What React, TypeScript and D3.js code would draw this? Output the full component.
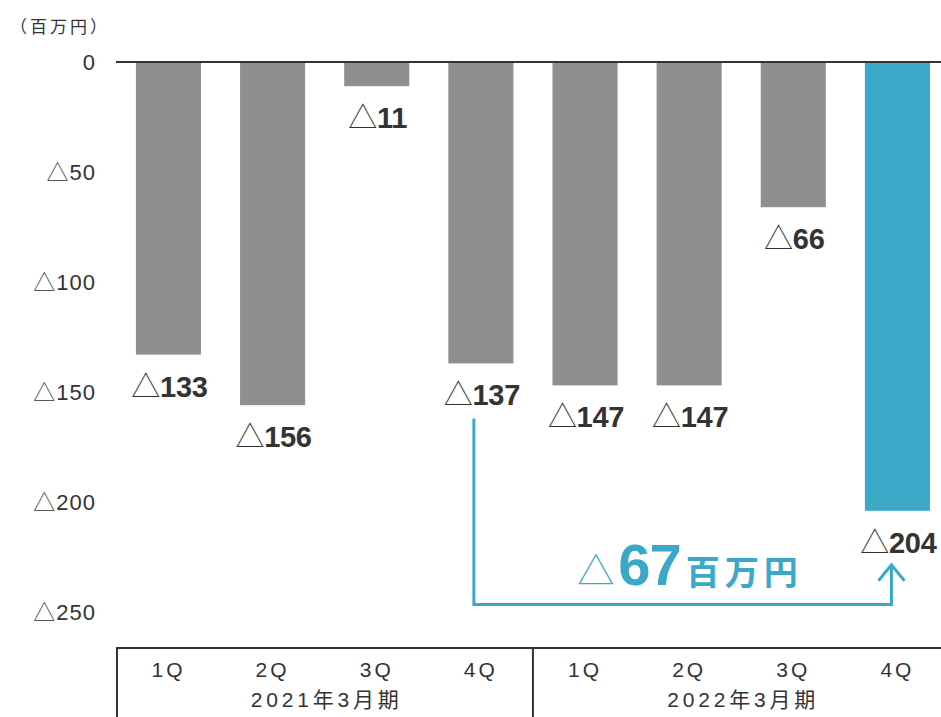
import React from "react";
import * as d3 from "d3";

const quarters = ["1Q", "2Q", "3Q", "4Q", "1Q", "2Q", "3Q", "4Q"];
const values = [-133, -156, -11, -137, -147, -147, -66, -204];
const fiscalYears = ["2021年3月期", "2022年3月期"];
const yTicks = [0, -50, -100, -150, -200, -250];
const unitLabel = "（百万円）";
const diffValue = 67;

const W = 941;
const H = 717;
const FONT = "'Liberation Sans', Arial, 'Noto Sans CJK JP', sans-serif";
const CJK = "'Noto Sans CJK JP', sans-serif";
const GRAY = "#8f8f8f";
const BLUE = "#3ba8c8";
const TEXT = "#333333";

export default function App() {
  const x = d3.scaleBand<number>().domain(d3.range(values.length)).range([116.4, 949.5]).paddingInner(0.375).paddingOuter(0.1875);
  const y = d3.scaleLinear().domain([0, -250]).range([62, 612]);
  const bw = x.bandwidth();
  const fmt = (v: number) => (v === 0 ? "0" : String(Math.abs(v)));

  const fromIdx = 3;
  const toIdx = 7;
  const ax1 = x(fromIdx)! + bw / 2 - 7;
  const ax2 = x(toIdx)! + bw / 2 - 6;
  const ayTop = y(values[fromIdx]) + 55;
  const ayBottom = 604.5;
  const ayArrow = y(values[toIdx]) + 53;

  const tableTop = 648;
  const sepX = (x(3)! + bw + x(4)!) / 2;

  return (
    <svg width={W} height={H} style={{ position: "absolute", left: 0, top: 0 }} fontFamily={FONT}>
      <rect width={W} height={H} fill="#fff" />
      <text x={10} y={33} fontSize={17} fill={TEXT} fontFamily={CJK} letterSpacing={3}>{unitLabel}</text>
      {yTicks.map((t) => (
        <text key={t} x={96} y={y(t)} dy="0.36em" textAnchor="end" fontSize={22} fill={TEXT} letterSpacing={1}>
          {t < 0 && <tspan fontWeight={300} fontFamily={CJK} fontSize={22}>△</tspan>}
          {fmt(t)}
        </text>
      ))}
      {values.map((v, i) => (
        <rect key={i} x={x(i)} y={y(0)} width={bw} height={y(v) - y(0)} fill={i === values.length - 1 ? BLUE : GRAY} />
      ))}
      <line x1={116} x2={W} y1={y(0)} y2={y(0)} stroke={TEXT} strokeWidth={2} />
      {values.map((v, i) => (
        <text key={"l" + i} x={x(i)! + bw / 2 + 1} y={y(v) + 42} textAnchor="middle" fontSize={29} fontWeight="bold" fill={TEXT} letterSpacing={-0.3}>
          <tspan fontWeight={300} fontFamily={CJK} fontSize={29}>△</tspan>
          {fmt(v)}
        </text>
      ))}
      <path
        d={`M${ax1},${ayTop} V${ayBottom} H${ax2} V${ayArrow + 2}`}
        fill="none"
        stroke={BLUE}
        strokeWidth={3}
      />
      <path
        d={`M${ax2 - 13},${ayArrow + 17} L${ax2},${ayArrow + 1} L${ax2 + 13},${ayArrow + 17}`}
        fill="none"
        stroke={BLUE}
        strokeWidth={3}
      />
      <text x={690} y={585} textAnchor="middle" fill={BLUE} fontWeight="bold">
        <tspan fontWeight={300} fontFamily={CJK} fontSize={37}>△</tspan>
        <tspan fontSize={58} dx={4} letterSpacing={-1}>{diffValue}</tspan>
        <tspan fontSize={34} fontFamily={CJK} dx={5} letterSpacing={5}>百万円</tspan>
      </text>
      <line x1={116} x2={W} y1={tableTop} y2={tableTop} stroke={TEXT} strokeWidth={2} />
      <line x1={117} x2={117} y1={tableTop} y2={H} stroke={TEXT} strokeWidth={2} />
      <line x1={sepX} x2={sepX} y1={tableTop} y2={H} stroke={TEXT} strokeWidth={2} />
      {quarters.map((q, i) => (
        <text key={"q" + i} x={x(i)! + bw / 2} y={677} textAnchor="middle" fontSize={21} fill={TEXT} letterSpacing={3}>{q}</text>
      ))}
      {fiscalYears.map((fy, j) => (
        <text key={fy} x={(x(j * 4)! + x(j * 4 + 3)! + bw) / 2 + 2} y={707} textAnchor="middle" fontSize={21} fill={TEXT} letterSpacing={3.8}>
          {fy}
        </text>
      ))}
    </svg>
  );
}
